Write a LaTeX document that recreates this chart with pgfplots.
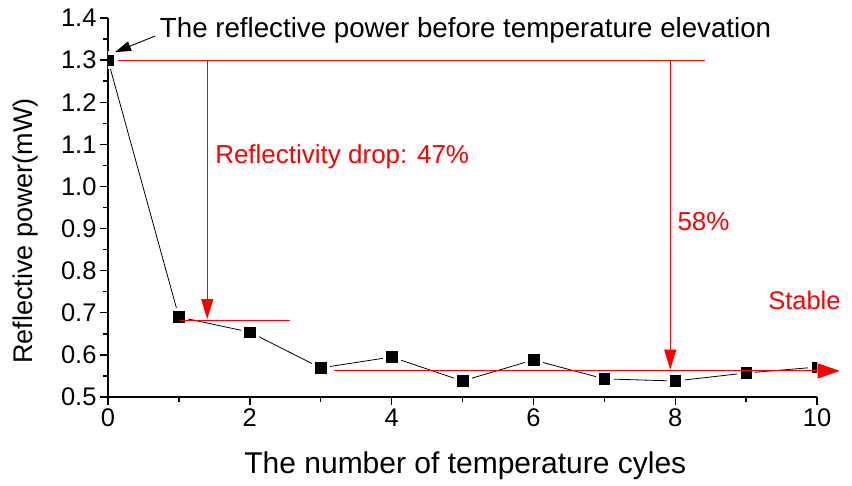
\documentclass[border=0pt]{standalone}
\usepackage{pgfplots}
\pgfplotsset{compat=1.18}
\usepackage{fontspec}
\setmainfont{Liberation Sans}
\usetikzlibrary{arrows.meta}
\begin{document}
\begin{tikzpicture}
\useasboundingbox (0,0) rectangle (852pt,486pt);
\begin{axis}[
  at={(108pt,89pt)}, anchor=south west,
  scale only axis, width=709pt, height=379pt,
  xmin=0, xmax=10, ymin=0.5, ymax=1.4,
  axis x line*=bottom, axis y line*=left,
  axis line style={line width=1.8pt, black},
  x axis line style={-}, y axis line style={-},
  tick align=outside,
  major tick length=8pt, minor tick length=5pt,
  tick style={line width=1.4pt, black},
  xtick={0,2,4,6,8,10}, minor xtick={1,3,5,7,9},
  ytick={0.5,0.6,0.7,0.8,0.9,1.0,1.1,1.2,1.3,1.4},
  minor ytick={0.55,0.65,0.75,0.85,0.95,1.05,1.15,1.25,1.35},
  /pgf/number format/assume math mode=true,
  yticklabel style={/pgf/number format/.cd, fixed, fixed zerofill, precision=1},
  xticklabel style={/pgf/number format/.cd, fixed, precision=0},
  tick label style={font=\fontsize{25.5}{30}\selectfont},
  xlabel={The number of temperature cyles},
  ylabel={Reflective power(mW)},
  xlabel style={font=\fontsize{30}{35}\selectfont, at={(axis description cs:0.504,-0.182)}, anchor=center},
  ylabel style={font=\fontsize{27}{32}\selectfont, at={(axis description cs:-0.117,0.438)}, anchor=center},
  clip marker paths=true,
]
\addplot[black, line width=0.8pt, no markers] coordinates {
(0,1.300) (1,0.690) (2,0.654) (3,0.569) (4,0.595) (5,0.538) (6,0.588) (7,0.543) (8,0.538) (9,0.557) (10,0.571)};
\addplot[only marks, mark=square*, mark size=8.5pt, mark options={fill=white, draw=white}] coordinates {
(0,1.300) (1,0.690) (2,0.654) (3,0.569) (4,0.595) (5,0.538) (6,0.588) (7,0.543) (8,0.538) (9,0.557) (10,0.571)};
\addplot[only marks, mark=square*, mark size=5.3pt, mark options={fill=black, draw=black}] coordinates {
(0,1.300) (1,0.690) (2,0.654) (3,0.569) (4,0.595) (5,0.538) (6,0.588) (7,0.543) (8,0.538) (9,0.557) (10,0.571)};
\coordinate (T1) at (axis cs:0.14,1.30);
\coordinate (T2) at (axis cs:8.42,1.30);
\coordinate (A1) at (axis cs:1.40,1.30);
\coordinate (A2) at (axis cs:1.40,0.685);
\coordinate (H1) at (axis cs:1.02,0.682);
\coordinate (H2) at (axis cs:2.57,0.682);
\coordinate (B1) at (axis cs:7.93,1.30);
\coordinate (B2) at (axis cs:7.93,0.565);
\coordinate (S1) at (axis cs:3.19,0.562);
\coordinate (S2) at (axis cs:10.32,0.562);
\coordinate (K1) at (axis cs:0.663,1.357);
\coordinate (K2) at (axis cs:0.099,1.319);
\coordinate (N1) at (axis cs:0.73,1.371);
\coordinate (N2) at (axis cs:1.51,1.070);
\coordinate (N3) at (axis cs:8.03,0.916);
\coordinate (N4) at (axis cs:9.31,0.730);
\end{axis}
\draw[red, line width=1pt] (T1) -- (T2);
\draw[red, line width=1pt, -{Triangle[length=20pt,width=12pt]}] (A1) -- (A2);
\draw[red, line width=1pt] (H1) -- (H2);
\draw[red, line width=1pt, -{Triangle[length=20pt,width=12pt]}] (B1) -- (B2);
\draw[red, line width=1pt, -{Triangle[length=22pt,width=15pt]}] (S1) -- (S2);
\draw[black, line width=0.9pt, -{Triangle[length=16pt,width=10pt]}] (K1) -- (K2);
\node[anchor=west, inner sep=0pt, font=\fontsize{27.7}{32}\selectfont] at (N1) {The reflective power before temperature elevation};
\node[anchor=west, inner sep=0pt, red, font=\fontsize{26}{30}\selectfont] at (N2) {Reflectivity drop: 47\%};
\node[anchor=west, inner sep=0pt, red, font=\fontsize{26}{30}\selectfont] at (N3) {58\%};
\node[anchor=west, inner sep=0pt, red, font=\fontsize{25.5}{30}\selectfont] at (N4) {Stable};
\end{tikzpicture}
\end{document}
